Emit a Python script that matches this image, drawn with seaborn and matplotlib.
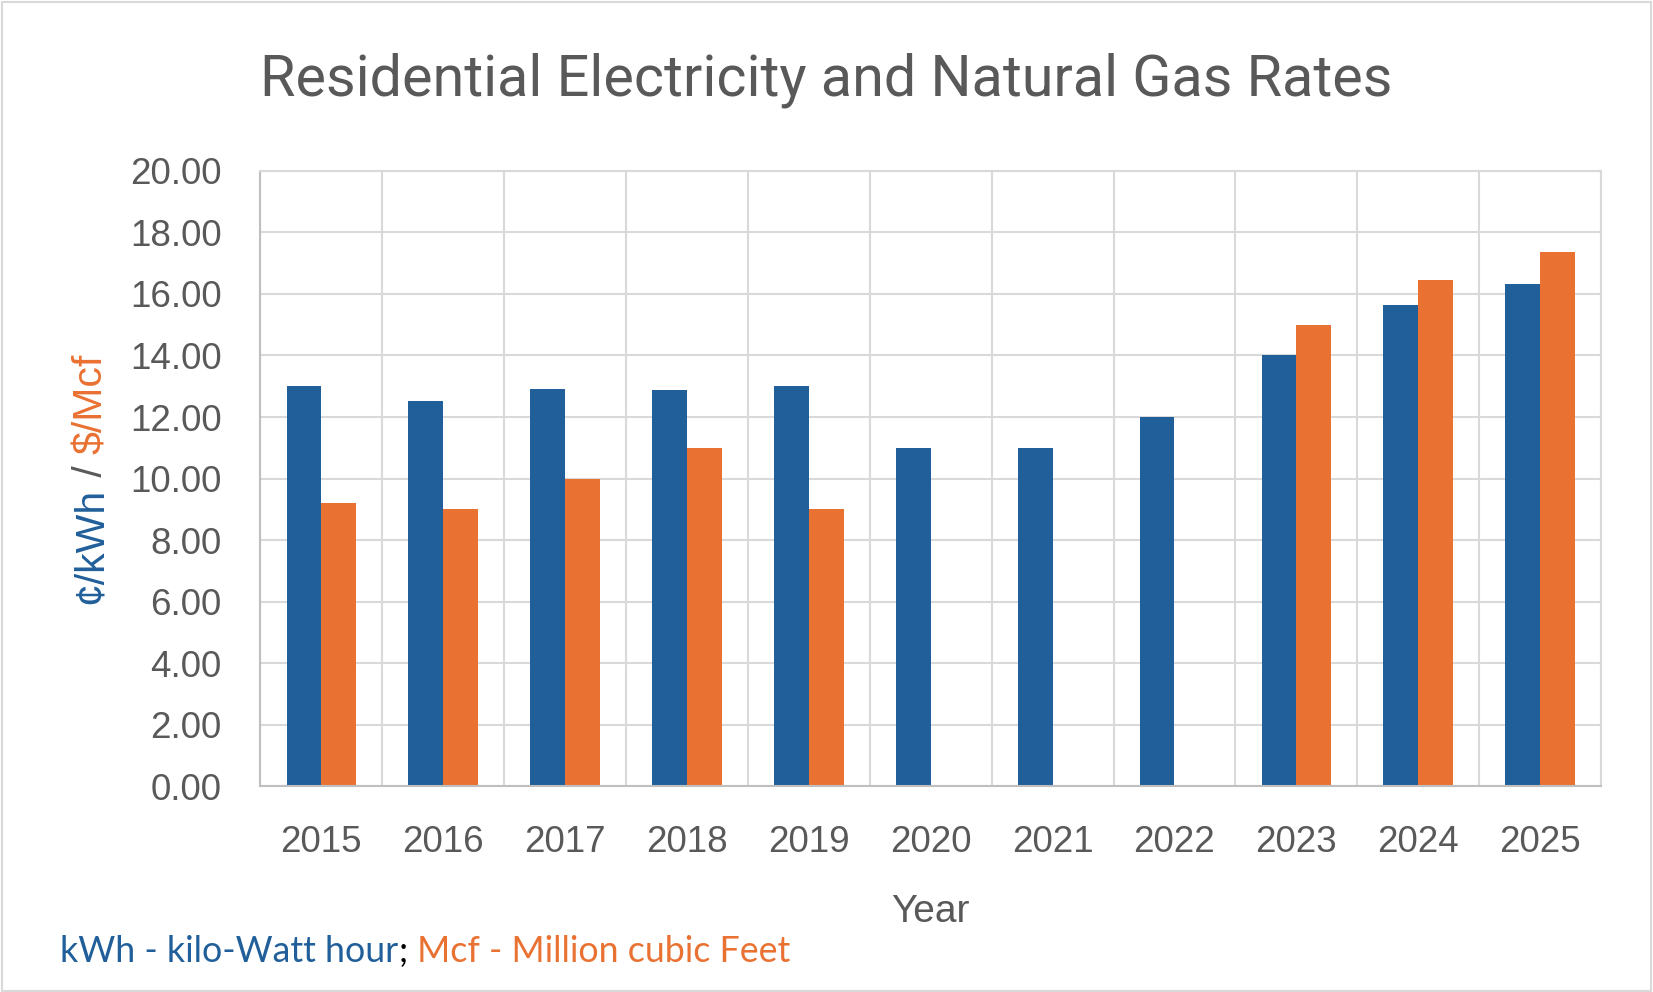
import numpy as np
import pandas as pd
import matplotlib
matplotlib.use("Agg")
import matplotlib.pyplot as plt
import seaborn as sns
from matplotlib.patches import Rectangle
from matplotlib import font_manager

# ---------------- data ----------------
years = ["2015", "2016", "2017", "2018", "2019", "2020",
         "2021", "2022", "2023", "2024", "2025"]
electricity = [13.0, 12.53, 12.9, 12.87, 13.0, 11.0, 11.0, 12.0, 14.0, 15.63, 16.32]
gas = [9.2, 9.0, 10.0, 11.0, 9.0, np.nan, np.nan, np.nan, 15.0, 16.45, 17.36]
series = ["Electricity", "Natural Gas"]
yticks = list(range(0, 21, 2))

title = "Residential Electricity and Natural Gas Rates"
xlabel = "Year"
ylabel_parts = ["\u00a2/kWh", " / ", "$/Mcf"]
foot_parts = ["kWh - kilo-Watt hour", ";", " Mcf - Million cubic Feet"]

BLUE = "#215F9A"
ORANGE = "#E97132"
GRAY = "#595959"
GRID = "#D9D9D9"
AXIS = "#BFBFBF"

W, H = 1653, 992

sns.set_style("white")
plt.rcParams['font.family'] = ['Liberation Sans', 'DejaVu Sans']


def has_font(name):
    try:
        font_manager.findfont(name, fallback_to_default=False)
        return True
    except Exception:
        return False


title_font = 'Liberation Sans Narrow' if has_font('Liberation Sans Narrow') else 'Roboto'
foot_font = 'Lato' if has_font('Lato') else 'Liberation Sans'

fig = plt.figure(figsize=(W / 100, H / 100), dpi=100)
fig.patch.set_facecolor("white")
ax = fig.add_axes([260.4 / W, 1 - 786.4 / H, (1601 - 260.4) / W, (786.4 - 170.8) / H])

df = pd.DataFrame({
    "Year": years * 2,
    "Rate": electricity + gas,
    "Series": [series[0]] * len(years) + [series[1]] * len(years),
}).dropna()

sns.barplot(data=df, x="Year", y="Rate", hue="Series", order=years,
            hue_order=series, palette=[BLUE, ORANGE], width=0.571, gap=0,
            linewidth=0, saturation=1, legend=False, errorbar=None, ax=ax)

ax.set_xlim(-0.5, len(years) - 0.5)
ax.set_ylim(0, 20)
ax.set_yticks(yticks)
ax.set_yticklabels([f"{v:.2f}" for v in yticks])
ax.set_xticks(np.arange(-0.5, len(years), 1.0), minor=True)
ax.set_axisbelow(True)
ax.grid(axis='y', which='major', color=GRID, lw=1.5)
ax.grid(axis='x', which='minor', color=GRID, lw=1.5)
ax.grid(axis='x', which='major', visible=False)
ax.tick_params(which='both', length=0)
ax.tick_params(axis='x', labelsize=26.5, pad=28, colors=GRAY)
ax.tick_params(axis='y', labelsize=26.5, pad=28, colors=GRAY)
ax.set_xlabel("")
ax.set_ylabel("")
for s in ["top", "right"]:
    ax.spines[s].set_color(GRID)
    ax.spines[s].set_linewidth(1.5)
for s in ["left", "bottom"]:
    ax.spines[s].set_color(AXIS)
    ax.spines[s].set_linewidth(1.5)

renderer = fig.canvas.get_renderer()


def text_w(s, **kw):
    t1 = fig.text(0, 0, "|" + s + "|", **kw)
    t2 = fig.text(0, 0, "||", **kw)
    w = t1.get_window_extent(renderer).width - t2.get_window_extent(renderer).width
    t1.remove()
    t2.remove()
    return w


def fit_size(s, target, family, base=30):
    w = text_w(s, fontsize=base, family=family)
    return base * target / w


# title
tsize = fit_size(title, 1128, title_font)
fig.text(0.5, 1 - 95 / H, title, ha='center', va='baseline', color=GRAY,
         fontsize=tsize, family=title_font)

# x label
fig.text((260.4 + 1601) / 2 / W, 1 - 921.7 / H, xlabel, ha='center',
         va='baseline', color=GRAY, fontsize=28)

# multi-colour y label (rotated)
ysize = 29.5
ycols = [BLUE, GRAY, ORANGE]
widths = [text_w(p, fontsize=ysize) for p in ylabel_parts]
total = sum(widths)
start = (H - 478.6) - total / 2
off = 0
for p, c, w in zip(ylabel_parts, ycols, widths):
    fig.text(101.7 / W, (start + off) / H, p, rotation=90, rotation_mode='anchor',
             ha='left', va='baseline', color=c, fontsize=ysize)
    off += w

# multi-colour footnote
fcols = [BLUE, "black", ORANGE]
fsize = fit_size("".join(foot_parts), 729, foot_font)
fw = [text_w(p, fontsize=fsize, family=foot_font) for p in foot_parts]
x = 60
for p, c, w in zip(foot_parts, fcols, fw):
    fig.text(x / W, 30.3 / H, p, ha='left', va='baseline', color=c,
             fontsize=fsize, family=foot_font)
    x += w

# figure border
fig.patches.append(Rectangle((0.001, 0.001), 0.998, 0.997, transform=fig.transFigure,
                             fill=False, edgecolor=GRID, lw=1.5))

fig.savefig("out.png", dpi=100, facecolor="white")
